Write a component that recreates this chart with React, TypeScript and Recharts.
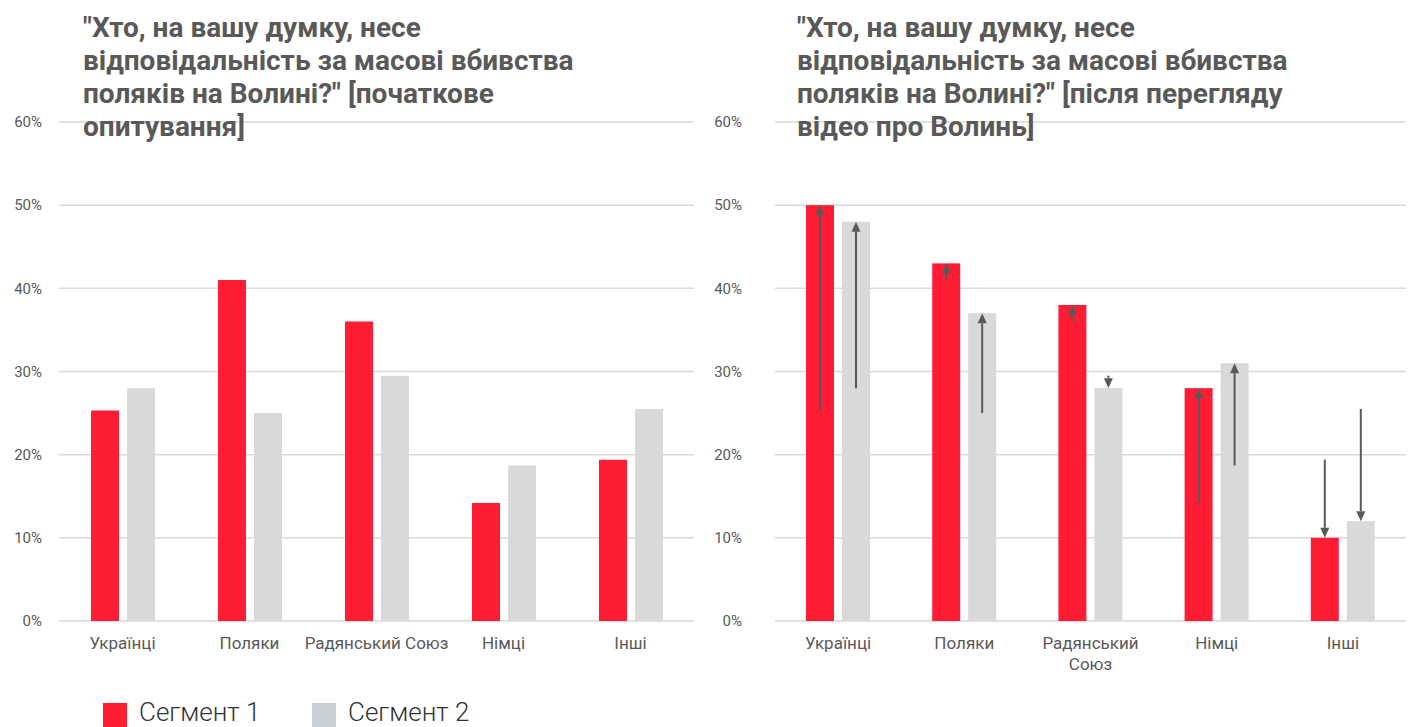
import { BarChart, Bar, XAxis, YAxis, CartesianGrid } from 'recharts';

const categories = ['Українці', 'Поляки', 'Радянський Союз', 'Німці', 'Інші'];
const yTicks = [0, 10, 20, 30, 40, 50, 60];
const seriesNames = ['Сегмент 1', 'Сегмент 2'];

// initial survey
const initialSeg1 = [25.3, 41, 36, 14.2, 19.4];
const initialSeg2 = [28, 25, 29.5, 18.7, 25.5];

// after watching the video
const afterSeg1 = [50, 43, 38, 28, 10];
const afterSeg2 = [48, 37, 28, 31, 12];

const titleInitial = [
    '"Хто, на вашу думку, несе',
    'відповідальність за масові вбивства',
    'поляків на Волині?" [початкове',
    'опитування]',
];
const titleAfter = [
    '"Хто, на вашу думку, несе',
    'відповідальність за масові вбивства',
    'поляків на Волині?" [після перегляду',
    'відео про Волинь]',
];

const RED = '#FF1D35';
const GREY = '#D9D9D9';
const LEGEND_GREY = '#CAD1D4';
const ARROW = '#595959';
const FONT = 'Roboto, sans-serif';

const initialData = categories.map((name, i) => ({ name, s1: initialSeg1[i], s2: initialSeg2[i] }));
const afterData = categories.map((name, i) => ({
    name,
    s1: afterSeg1[i],
    s2: afterSeg2[i],
    prev1: initialSeg1[i],
    prev2: initialSeg2[i],
}));

function CategoryTick(props: any) {
    const { x, y, payload, wrap } = props;
    const label: string = payload.value;
    const lines = wrap && label.length > 12 ? label.split(' ') : [label];
    return (
        <text x={x} y={y} textAnchor="middle" fill="#595959" fontSize={17} fontFamily={FONT}>
            {lines.map((l, i) => (
                <tspan key={i} x={x} dy={i === 0 ? 28 : 21}>{l}</tspan>
            ))}
        </text>
    );
}

// bar with an arrow from the initial value to the new one
function ArrowBar(props: any) {
    const { x, y, width, height, fill, payload, valueKey, prevKey } = props;
    const v = payload[valueKey];
    const base = y + height;
    const prevY = base - (payload[prevKey] / v) * height;
    const cx = x + width / 2;
    const up = prevY > y;
    const head = 10;
    const hw = 4.5;
    const lineEnd = up ? y + head : y - head;
    return (
        <g>
            <rect x={x} y={y} width={width} height={height} fill={fill} />
            <line x1={cx} y1={prevY} x2={cx} y2={lineEnd} stroke={ARROW} strokeWidth={2} />
            <polygon points={`${cx},${y} ${cx - hw},${lineEnd} ${cx + hw},${lineEnd}`} fill={ARROW} />
        </g>
    );
}

function Title({ lines, left }: { lines: string[]; left: number }) {
    return (
        <div style={{
            position: 'absolute', left, top: 11, fontFamily: FONT, fontWeight: 700,
            fontSize: 28, lineHeight: '33px', color: '#595959', whiteSpace: 'nowrap',
        }}>
            {lines.map((l, i) => <div key={i}>{l}</div>)}
        </div>
    );
}

function Panel({ data, width, yWidth, right, arrows, wrap }: any) {
    return (
        <BarChart width={width} height={690} data={data} barSize={28} barGap={8}
            margin={{ top: 122, right, bottom: 19, left: 0 }}>
            <CartesianGrid vertical={false} stroke="#D9D9D9" strokeWidth={1.5} />
            <XAxis dataKey="name" axisLine={false} tickLine={false} tickSize={0} tickMargin={0}
                height={50} interval={0} tick={(p: any) => <CategoryTick {...p} wrap={wrap} />} />
            <YAxis domain={[0, 60]} ticks={yTicks} width={yWidth} axisLine={false} tickLine={false}
                tickSize={0} tickMargin={yWidth - 42} tickFormatter={(v) => `${v}%`}
                tick={{ fill: '#595959', fontSize: 15, fontFamily: FONT }} />
            {arrows ? (
                <>
                    <Bar dataKey="s1" fill={RED} isAnimationActive={false}
                        shape={(p: any) => <ArrowBar {...p} valueKey="s1" prevKey="prev1" />} />
                    <Bar dataKey="s2" fill={GREY} isAnimationActive={false}
                        shape={(p: any) => <ArrowBar {...p} valueKey="s2" prevKey="prev2" />} />
                </>
            ) : (
                <>
                    <Bar dataKey="s1" fill={RED} isAnimationActive={false} />
                    <Bar dataKey="s2" fill={GREY} isAnimationActive={false} />
                </>
            )}
        </BarChart>
    );
}

export default function App() {
    return (
        <div style={{ position: 'absolute', left: 0, top: 0, width: 1415, height: 727, background: '#fff', overflow: 'hidden' }}>
            <div style={{ position: 'absolute', left: 0, top: 0 }}>
                <Panel data={initialData} width={700} yWidth={59} right={6} arrows={false} wrap={false} />
            </div>
            <div style={{ position: 'absolute', left: 700, top: 0 }}>
                <Panel data={afterData} width={715} yWidth={75} right={9} arrows={true} wrap={true} />
            </div>
            <Title lines={titleInitial} left={83} />
            <Title lines={titleAfter} left={797} />
            {seriesNames.map((name, i) => (
                <div key={name} style={{ position: 'absolute', left: i === 0 ? 103 : 312, top: 703, display: 'flex', alignItems: 'flex-start' }}>
                    <div style={{ width: 24, height: 24, background: i === 0 ? RED : LEGEND_GREY }} />
                    <div style={{ marginLeft: 12, marginTop: -2, fontFamily: FONT, fontWeight: 300, fontSize: 26, lineHeight: '22px', color: '#333' }}>{name}</div>
                </div>
            ))}
        </div>
    );
}
